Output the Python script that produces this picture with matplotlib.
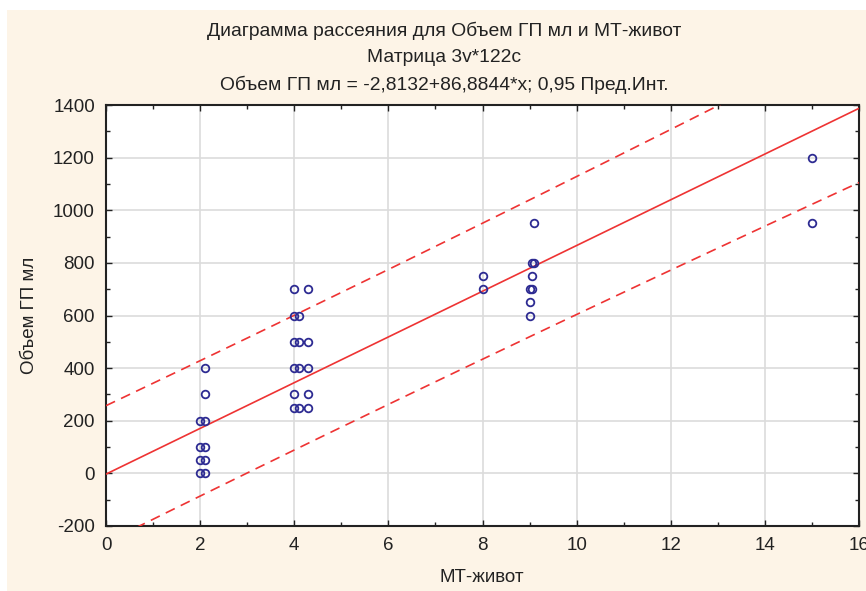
import numpy as np
import matplotlib
matplotlib.use("Agg")
import matplotlib.pyplot as plt
from matplotlib.patches import Rectangle
from matplotlib.ticker import MultipleLocator

plt.rcParams['font.family'] = ['Liberation Sans', 'DejaVu Sans']
plt.rcParams['axes.unicode_minus'] = False

# данные: МТ-живот (x) и Объем ГП мл (y)
mt_zhivot = [2.0, 2.0, 2.0, 2.0,
             2.1, 2.1, 2.1, 2.1, 2.1, 2.1,
             4.0, 4.0, 4.0, 4.0, 4.0, 4.0,
             4.1, 4.1, 4.1, 4.1,
             4.3, 4.3, 4.3, 4.3, 4.3,
             8.0, 8.0,
             9.0, 9.0, 9.0,
             9.05, 9.05, 9.05,
             9.1, 9.1,
             15.0, 15.0]
obem_gp = [0, 50, 100, 200,
           0, 50, 100, 200, 300, 400,
           250, 300, 400, 500, 600, 700,
           250, 400, 500, 600,
           250, 300, 400, 500, 700,
           700, 750,
           600, 650, 700,
           700, 750, 800,
           800, 950,
           950, 1200]

# регрессия из заголовка
intercept = -2.8132
slope = 86.8844
# параметры предсказательного интервала (оценка по картинке)
n_cases = 122
resid_sd = 128.7
x_mean = 4.5
sxx = 610.0
t_crit = 1.98

title_lines = ["Диаграмма рассеяния для Объем ГП мл и МТ-живот",
               "Матрица 3v*122c",
               "Объем ГП мл = -2,8132+86,8844*x; 0,95 Пред.Инт."]

FS = 13.5
TXT = '#222222'

fig = plt.figure(figsize=(8.66, 5.91), dpi=100)
fig.patch.set_facecolor('white')
fig.patches.append(Rectangle((7 / 866, 0), 1, 1 - 10 / 591, transform=fig.transFigure,
                             facecolor='#fdf4e7', edgecolor='none', zorder=-10))

ax = fig.add_axes([106 / 866, 1 - 526 / 591, (859 - 106) / 866, (526 - 105) / 591])
ax.set_facecolor('white')

xs = np.linspace(0, 16, 200)
fit = intercept + slope * xs
half = t_crit * resid_sd * np.sqrt(1 + 1 / n_cases + (xs - x_mean) ** 2 / sxx)

red = '#ee3333'
ax.plot(xs, fit, color=red, lw=1.2, zorder=3)
ax.plot(xs, fit + half, color=red, lw=1.2, ls=(0, (6, 4)), zorder=3)
ax.plot(xs, fit - half, color=red, lw=1.2, ls=(0, (6, 4)), zorder=3)

ax.plot(mt_zhivot, obem_gp, 'o', ms=5.5, mfc='none', mec='#2d2b92', mew=1.3, zorder=4)

ax.set_xlim(0, 16)
ax.set_ylim(-200, 1400)
ax.xaxis.set_major_locator(MultipleLocator(2))
ax.xaxis.set_minor_locator(MultipleLocator(1))
ax.yaxis.set_major_locator(MultipleLocator(200))
ax.yaxis.set_minor_locator(MultipleLocator(100))
ax.grid(True, which='major', color='#dcdcdc', lw=1.2, zorder=0)
ax.set_axisbelow(True)
ax.tick_params(which='both', direction='in', top=True, right=True, colors=TXT,
               labelsize=FS, labelcolor=TXT)
ax.tick_params(which='major', length=4, width=1)
ax.tick_params(which='minor', length=3, width=1)
ax.tick_params(axis='y', which='major', pad=8)
ax.tick_params(axis='x', which='major', pad=8)
for s in ax.spines.values():
    s.set_linewidth(1.5)
    s.set_color(TXT)

ax.set_xlabel("МТ-живот", fontsize=FS, color=TXT)
ax.set_ylabel("Объем ГП мл", fontsize=FS, color=TXT)
ax.xaxis.set_label_coords((482 - 106) / 753, (526 - 578) / 421)
ax.yaxis.set_label_coords((30 - 106) / 753, 0.5)
ax.xaxis.label.set_va('center')
ax.yaxis.label.set_va('center')

for i, line in enumerate(title_lines):
    fig.text(444 / 866, 1 - (31 + 27 * i) / 591, line, ha='center', va='center',
             fontsize=13.9, color=TXT)

fig.savefig('out.png', dpi=100)
